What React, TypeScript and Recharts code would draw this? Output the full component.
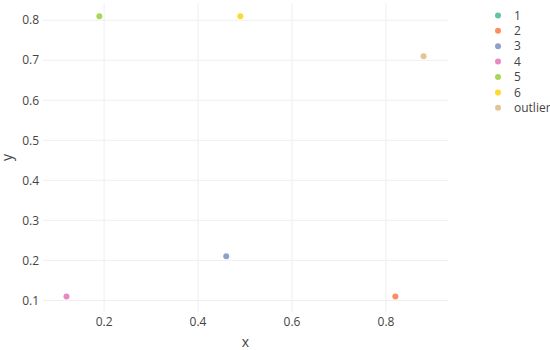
import React from "react";
import { ScatterChart, Scatter, XAxis, YAxis, CartesianGrid, Label } from "recharts";

const seriesNames = ["1", "2", "3", "4", "5", "6", "outlier"];
const seriesColors = ["#66c2a5", "#fc8d62", "#8da0cb", "#e78ac3", "#a6d854", "#ffd92f", "#e5c494"];
const seriesX: number[][] = [[], [0.82], [0.46], [0.12], [0.19], [0.49], [0.88]];
const seriesY: number[][] = [[], [0.11], [0.21], [0.11], [0.81], [0.81], [0.71]];
const xTicks = [0.2, 0.4, 0.6, 0.8];
const yTicks = [0.1, 0.2, 0.3, 0.4, 0.5, 0.6, 0.7, 0.8];

const FONT = '"Open Sans", verdana, arial, sans-serif';

const makeDot = (color: string) => (props: any) => (
  <circle cx={props.cx} cy={props.cy} r={3} fill={color} />
);

const LegendBox = () => (
  <svg width={62} height={120} style={{ position: "absolute", left: 488, top: 0 }}>
    {seriesNames.map((n, i) => (
      <g key={n} transform={`translate(0, ${15.4 + i * 15.4})`}>
        <circle cx={10} cy={0} r={3} fill={seriesColors[i]} />
        <text x={26} y={0} dy="0.35em" fill="#444" fontSize={12} fontFamily={FONT}>{n}</text>
      </g>
    ))}
  </svg>
);

export default function App() {
  return (
    <div style={{ position: "absolute", left: 0, top: 0, width: 550, height: 350, background: "#fff" }}>
      <ScatterChart width={550} height={350} margin={{ top: 3, right: 102, bottom: 0, left: 0 }}>
        <CartesianGrid stroke="#eeeeee" strokeWidth={1} horizontalValues={yTicks} verticalValues={xTicks} />
        <XAxis
          type="number"
          dataKey="x"
          domain={[0.07, 0.932]}
          allowDataOverflow
          ticks={xTicks}
          axisLine={false}
          tickLine={false}
          tickSize={0}
          tickMargin={5}
          height={38}
          tick={{ fill: "#444", fontSize: 12, fontFamily: FONT }}
        >
          <Label value="x" position="insideBottom" offset={3} style={{ fill: "#444", fontSize: 14, fontFamily: FONT }} />
        </XAxis>
        <YAxis
          type="number"
          dataKey="y"
          domain={[0.071, 0.843]}
          allowDataOverflow
          ticks={yTicks}
          axisLine={false}
          tickLine={false}
          tickSize={0}
          tickMargin={4}
          width={43}
          tick={{ fill: "#444", fontSize: 12, fontFamily: FONT }}
        >
          <Label value="y" angle={-90} position="insideLeft" offset={7} style={{ fill: "#444", fontSize: 14, fontFamily: FONT, textAnchor: "middle" }} />
        </YAxis>
        {seriesNames.map((n, i) => (
          <Scatter
            key={n}
            name={n}
            data={seriesX[i].map((x, j) => ({ x, y: seriesY[i][j] }))}
            fill={seriesColors[i]}
            shape={makeDot(seriesColors[i])}
            isAnimationActive={false}
          />
        ))}
      </ScatterChart>
      <LegendBox />
    </div>
  );
}
